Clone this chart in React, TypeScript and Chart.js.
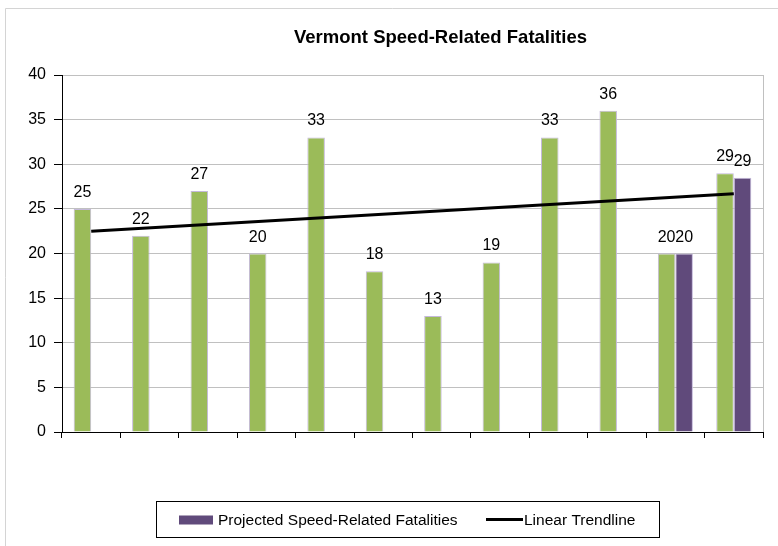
import React, { useEffect, useRef } from "react";
import { Chart, registerables } from "chart.js";

Chart.register(...registerables);

const TITLE = "Vermont Speed-Related Fatalities";
const CATEGORIES = ["1", "2", "3", "4", "5", "6", "7", "8", "9", "10", "11", "12"];
const ACTUAL = [25, 22, 27, 20, 33, 18, 13, 19, 33, 36, 20, 29];
const PROJECTED = [null, null, null, null, null, null, null, null, null, null, 20, 28.5];
const TREND = [22.5, null, null, null, null, null, null, null, null, null, null, 26.7];
const Y_MIN = 0;
const Y_MAX = 40;
const Y_STEP = 5;
const LEGEND_PROJECTED = "Projected Speed-Related Fatalities";
const LEGEND_TREND = "Linear Trendline";

const FONT = '"Liberation Sans", Arial, sans-serif';
const GREEN = "#9BBB59";
const PURPLE = "#604A7B";
const BAR_BORDER = "#C4B9DA";

const customPlugin = {
  id: "customDraw",
  beforeDraw(chart: any) {
    const ctx = chart.ctx;
    ctx.save();
    ctx.fillStyle = "#fff";
    ctx.fillRect(0, 0, chart.width, chart.height);
    ctx.strokeStyle = "#d4d4d4";
    ctx.lineWidth = 1;
    ctx.beginPath();
    ctx.moveTo(5.5, chart.height + 2);
    ctx.lineTo(5.5, 8.5);
    ctx.lineTo(chart.width + 2, 8.5);
    ctx.stroke();
    ctx.restore();
  },
  afterDatasetsDraw(chart: any) {
    const ctx = chart.ctx;
    const area = chart.chartArea;
    ctx.save();
    // right border of plot area
    ctx.strokeStyle = "#c0c0c0";
    ctx.lineWidth = 1;
    ctx.beginPath();
    ctx.moveTo(Math.round(area.right) + 0.5, area.top);
    ctx.lineTo(Math.round(area.right) + 0.5, area.bottom);
    ctx.stroke();

    // data labels
    ctx.fillStyle = "#000";
    ctx.font = `16px ${FONT}`;
    ctx.textAlign = "center";
    ctx.textBaseline = "alphabetic";
    [0, 1].forEach((di) => {
      const meta = chart.getDatasetMeta(di);
      const data = chart.data.datasets[di].data;
      meta.data.forEach((el: any, i: number) => {
        const v = data[i];
        if (v === null || v === undefined) return;
        ctx.fillText(String(Math.round(v)), el.x, el.y - 12);
      });
    });

    // title
    ctx.font = `bold 18.5px ${FONT}`;
    ctx.fillText(TITLE, 440.5, 42.5);

    // legend
    ctx.strokeStyle = "#000";
    ctx.lineWidth = 1;
    ctx.strokeRect(156.5, 501.5, 503, 36);
    ctx.fillStyle = PURPLE;
    ctx.fillRect(179, 515.5, 34, 9);
    ctx.fillStyle = "#000";
    ctx.font = `15.5px ${FONT}`;
    ctx.textAlign = "left";
    ctx.fillText(LEGEND_PROJECTED, 218, 525);
    ctx.lineWidth = 3;
    ctx.beginPath();
    ctx.moveTo(486, 519.5);
    ctx.lineTo(523, 519.5);
    ctx.stroke();
    ctx.fillText(LEGEND_TREND, 524, 525);
    ctx.restore();
  },
};

export default function App() {
  const canvasRef = useRef<HTMLCanvasElement | null>(null);

  useEffect(() => {
    const canvas = canvasRef.current;
    if (!canvas) return;
    const chart = new Chart(canvas, {
      type: "bar",
      data: {
        labels: CATEGORIES,
        datasets: [
          {
            label: "Speed-Related Fatalities",
            data: ACTUAL,
            backgroundColor: GREEN,
            borderColor: BAR_BORDER,
            borderWidth: 1,
            order: 2,
          },
          {
            label: LEGEND_PROJECTED,
            data: PROJECTED as any,
            backgroundColor: PURPLE,
            borderColor: BAR_BORDER,
            borderWidth: 1,
            order: 2,
          },
          {
            type: "line",
            label: LEGEND_TREND,
            data: TREND as any,
            borderColor: "#000",
            borderWidth: 3,
            pointRadius: 0,
            spanGaps: true,
            fill: false,
            order: 0,
          } as any,
        ],
      },
      options: {
        responsive: false,
        animation: false,
        devicePixelRatio: 1,
        layout: { padding: { left: 0, right: 15, top: 75, bottom: 0 } },
        datasets: {
          bar: { categoryPercentage: 0.6, barPercentage: 1.0 },
        },
        plugins: {
          legend: { display: false },
          tooltip: { enabled: false },
          title: { display: false },
        },
        scales: {
          x: {
            offset: true,
            grid: {
              offset: true,
              drawOnChartArea: false,
              drawTicks: true,
              tickLength: 6,
              tickColor: "#000",
            },
            border: { color: "#000", width: 1 },
            ticks: { display: false },
            afterFit: (scale: any) => {
              scale.height = 114;
            },
          },
          y: {
            min: Y_MIN,
            max: Y_MAX,
            ticks: {
              stepSize: Y_STEP,
              padding: 8,
              color: "#000",
              font: { family: FONT, size: 16 },
            },
            grid: {
              color: (c: any) => (c.tick && c.tick.value === 0 ? "#000" : "#c0c0c0"),
              tickColor: "#000",
              tickLength: 8,
            },
            border: { color: "#000", width: 1 },
            afterFit: (scale: any) => {
              scale.width = 62;
            },
          },
        },
      },
      plugins: [customPlugin],
    });
    return () => chart.destroy();
  }, []);

  return (
    <div style={{ position: "absolute", left: 0, top: 0, width: 778, height: 546 }}>
      <canvas ref={canvasRef} width={778} height={546} style={{ display: "block" }} />
    </div>
  );
}
